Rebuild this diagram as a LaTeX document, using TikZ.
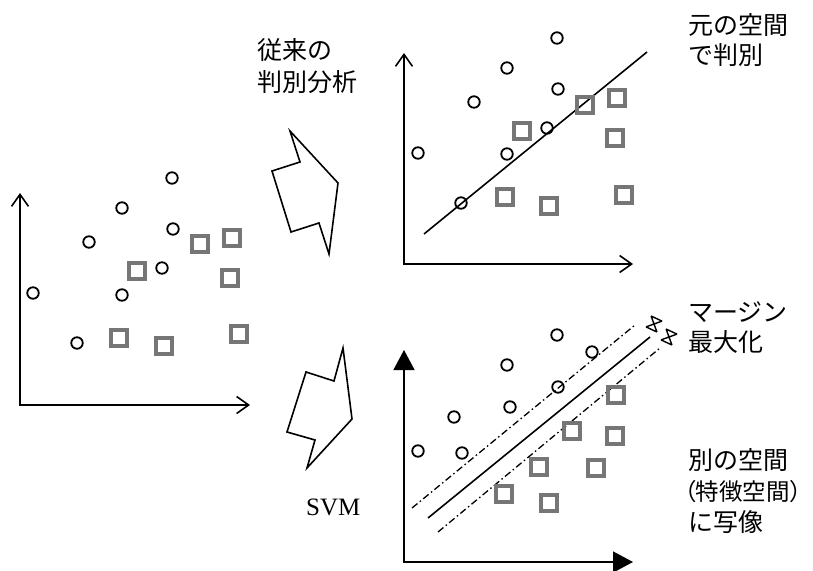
\documentclass[tikz,border=0pt]{standalone}
\usepackage{fontspec}
\setmainfont{Liberation Serif}
\newfontfamily\jp{Noto Sans CJK JP}
\usetikzlibrary{arrows.meta}
\definecolor{sqgray}{RGB}{118,118,118}
\begin{document}
\begin{tikzpicture}[x=1pt,y=-1pt,
  dot/.style={circle,draw=black,line width=1.8pt,minimum size=11.5pt,inner sep=0pt},
  sq/.style={rectangle,draw=sqgray,line width=4.2pt,minimum size=16pt,inner sep=0pt},
  axisopen/.style={line width=1.6pt,{Straight Barb[length=12pt,width=17pt]}-{Straight Barb[length=12pt,width=17pt]}},
  axisfill/.style={line width=1.6pt,{Triangle[length=20pt,width=21pt]}-{Triangle[length=20pt,width=21pt]}},
  jptext/.style={font=\jp\fontsize{25}{30}\selectfont,inner sep=0pt,anchor=base west},
  arrowshape/.style={draw=black,line width=1.6pt,line join=miter},
  sep/.style={line width=1.6pt},
  margin/.style={line width=1.3pt,dash pattern=on 7pt off 3pt on 1.5pt off 3pt},
  brk/.pic={\draw[line width=1.4pt] (-6,-6)--(6,-6) (-6,6)--(6,6) (-6,-6)--(6,6) (6,-6)--(-6,6);}
]
\useasboundingbox (0,0) rectangle (813,570);

% ---------- left plot ----------
\coordinate (Lo) at (20,405);
\coordinate (Ly) at (20,193);
\coordinate (Lx) at (250,405);
\draw[axisopen] (Ly) -- (Lo) -- (Lx);
\foreach \x/\y [count=\i] in {172/178,122/208,89/242,173/229,162/268,33/293,122/295,77/343}
  \node[dot] (Lc\i) at (\x,\y) {};
\foreach \x/\y [count=\i] in {200/244,232/238,137/271,230/278,119/338,164/346,239/334}
  \node[sq] (Ls\i) at (\x,\y) {};

% ---------- top-right plot ----------
\coordinate (To) at (404,264);
\coordinate (Ty) at (404,53);
\coordinate (Tx) at (633,264);
\draw[axisopen] (Ty) -- (To) -- (Tx);
\coordinate (Ta) at (424,234);
\coordinate (Tb) at (647,52);
\draw[sep] (Ta) -- (Tb);
\foreach \x/\y [count=\i] in {557/38,507/68,474/102,558/89,547/128,507/154,418/153,461/203}
  \node[dot] (Tc\i) at (\x,\y) {};
\foreach \x/\y [count=\i] in {585/105,617/98,522/131,615/138,505/197,549/206,624/195}
  \node[sq] (Ts\i) at (\x,\y) {};

% ---------- bottom-right plot ----------
\coordinate (Bo) at (404,562);
\coordinate (By) at (404,350);
\coordinate (Bx) at (633,562);
\draw[axisfill] (By) -- (Bo) -- (Bx);
\coordinate (Ba) at (428,518);
\coordinate (Bb) at (650,337);
\draw[sep] (Ba) -- (Bb);
\coordinate (Ua) at (412,508);
\coordinate (Ub) at (635,325);
\draw[margin] (Ua) -- (Ub);
\coordinate (Da) at (438,532);
\coordinate (Db) at (660,348);
\draw[margin] (Da) -- (Db);
\pic[rotate=-25] at (654,324) {brk};
\pic[rotate=-25] at (669,337) {brk};
\foreach \x/\y [count=\i] in {557/335,507/365,592/352,558/387,510/407,454/417,418/451,462/453}
  \node[dot] (Bc\i) at (\x,\y) {};
\foreach \x/\y [count=\i] in {616/395,572/431,615/436,539/467,596/468,504/494,549/503}
  \node[sq] (Bs\i) at (\x,\y) {};

% ---------- block arrows ----------
\draw[arrowshape] (290,131) -- (300,162) -- (272,171) -- (291,232) -- (319,223) -- (329,254) -- (338,183) -- cycle;
\draw[arrowshape] (343,348) -- (334,381) -- (306,372) -- (287,432) -- (315,440) -- (307,468) -- (352,419) -- cycle;

% ---------- texts ----------
\node[jptext] (t1a) at (257,59) {従来の};
\node[jptext] (t1b) at (257,91) {判別分析};
\node[jptext] (t2a) at (688,34) {元の空間};
\node[jptext] (t2b) at (688,64) {で判別};
\node[jptext] (t3a) at (688,321) {マージン};
\node[jptext] (t3b) at (688,351) {最大化};
\node[jptext] (t4a) at (688,469) {別の空間};
\node[jptext,font=\jp\fontsize{23.5}{30}\selectfont] (t4b) at (684,500) {\addfontfeatures{RawFeature=+palt}（特徴空間）};
\node[jptext] (t4c) at (688,531) {に写像};
\node[font=\fontsize{25}{29}\selectfont,inner sep=0pt,anchor=base west] (svm) at (306,515) {SVM};
\end{tikzpicture}
\end{document}
